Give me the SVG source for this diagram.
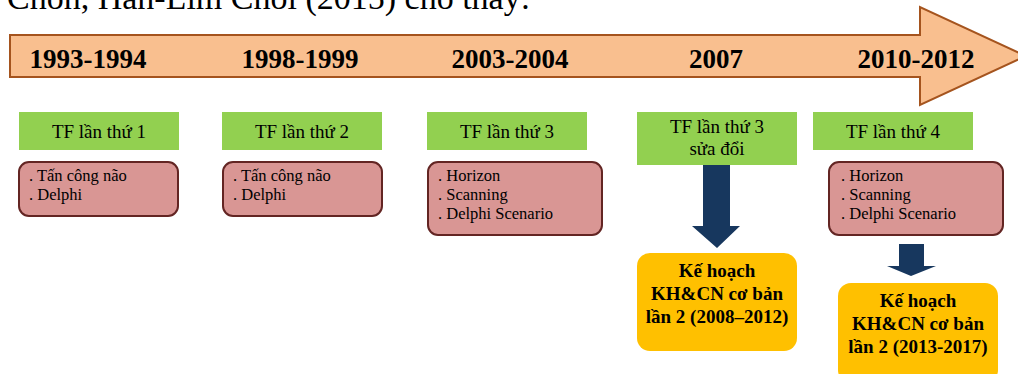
<svg xmlns="http://www.w3.org/2000/svg" width="1018" height="374" viewBox="0 0 1018 374">
<defs>
<style>
.serif{font-family:"Liberation Serif","Times New Roman",serif;fill:#000}
.year{font-size:27px;font-weight:bold;text-anchor:middle}
.tf{fill:#92D050}
.tft{font-size:19px;text-anchor:middle}
.pk{fill:#D99694;stroke:#632523;stroke-width:2}
.pkt{font-size:16.5px}
.or{fill:#FFC000}
.ort{font-size:19px;font-weight:bold;text-anchor:middle}
.down{fill:#17375E}
</style>
</defs>
<rect width="1018" height="374" fill="#fff"/>
<text class="serif" x="7" y="9" font-size="34">Chon, Han-Lim Choi (2015) cho thấy:</text>
<g id="timeline">
<path d="M10,35 L920,35 L920,7 L1026,56 L920,105 L920,77 L10,77 Z" fill="#F9BF8F" stroke="#A5541E" stroke-width="2"/>
<text class="serif year" x="88" y="68">1993-1994</text>
<text class="serif year" x="300" y="68">1998-1999</text>
<text class="serif year" x="510" y="68">2003-2004</text>
<text class="serif year" x="716" y="68">2007</text>
<text class="serif year" x="916" y="68">2010-2012</text>
</g>
<g id="tf1">
<rect class="tf" x="19" y="112" width="160" height="38"/>
<text class="serif tft" x="99" y="138">TF lần thứ 1</text>
</g>
<g id="m1">
<rect class="pk" x="19" y="162" width="159" height="54" rx="10"/>
<text class="serif pkt" x="29" y="181">. Tấn công não</text>
<text class="serif pkt" x="29" y="200">. Delphi</text>
</g>
<g id="tf2">
<rect class="tf" x="222" y="112" width="160" height="38"/>
<text class="serif tft" x="302" y="138">TF lần thứ 2</text>
</g>
<g id="m2">
<rect class="pk" x="223" y="162" width="159" height="54" rx="10"/>
<text class="serif pkt" x="233" y="181">. Tấn công não</text>
<text class="serif pkt" x="233" y="200">. Delphi</text>
</g>
<g id="tf3">
<rect class="tf" x="427" y="112" width="160" height="38"/>
<text class="serif tft" x="507" y="138">TF lần thứ 3</text>
</g>
<g id="m3">
<rect class="pk" x="428" y="162" width="174" height="73" rx="10"/>
<text class="serif pkt" x="438" y="181">. Horizon</text>
<text class="serif pkt" x="438" y="200">. Scanning</text>
<text class="serif pkt" x="438" y="219">. Delphi Scenario</text>
</g>
<g id="tf3b">
<rect class="tf" x="637" y="112" width="160" height="53"/>
<text class="serif tft" x="717" y="133">TF lần thứ 3</text>
<text class="serif tft" x="717" y="155">sửa đổi</text>
</g>
<g id="tf4">
<rect class="tf" x="813" y="112" width="160" height="38"/>
<text class="serif tft" x="893" y="138">TF lần thứ 4</text>
</g>
<g id="m4">
<rect class="pk" x="829" y="162" width="174" height="73" rx="10"/>
<text class="serif pkt" x="841" y="181">. Horizon</text>
<text class="serif pkt" x="841" y="200">. Scanning</text>
<text class="serif pkt" x="841" y="219">. Delphi Scenario</text>
</g>
<g id="connectors">
<path class="down" d="M703,165 L730,165 L730,226 L740,226 L717,248 L692,226 L703,226 Z"/>
<path class="down" d="M899,244 L924,244 L924,266 L936,266 L911,276 L887,266 L899,266 Z"/>
</g>
<g id="plan1">
<rect class="or" x="637" y="253" width="160" height="98" rx="13"/>
<text class="serif ort" x="717" y="277">Kế hoạch</text>
<text class="serif ort" x="717" y="300">KH&amp;CN cơ bản</text>
<text class="serif ort" x="717" y="323">lần 2 (2008–2012)</text>
</g>
<g id="plan2">
<rect class="or" x="838" y="283" width="160" height="100" rx="13"/>
<text class="serif ort" x="918" y="307">Kế hoạch</text>
<text class="serif ort" x="918" y="330">KH&amp;CN cơ bản</text>
<text class="serif ort" x="918" y="353">lần 2 (2013-2017)</text>
</g>
</svg>
